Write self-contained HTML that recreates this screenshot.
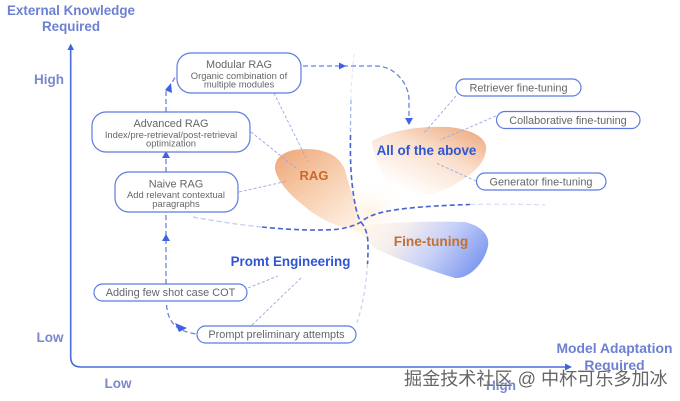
<!DOCTYPE html>
<html><head><meta charset="utf-8">
<style>
html,body{margin:0;padding:0;background:#fff;width:680px;height:401px;overflow:hidden}
svg{display:block;font-family:"Liberation Sans",sans-serif;filter:blur(.35px)}
.b{fill:#fff;stroke:#5c7be0;stroke-width:1.2}
.t{fill:#666;font-size:10.9px;text-anchor:middle}
.s{fill:#666;font-size:9.4px;text-anchor:middle}
.a{fill:#6c80d4;font-weight:bold;font-size:13.4px;text-anchor:middle}
.l{fill:#7a88cc;font-weight:bold;font-size:13.5px;text-anchor:middle}
.d{fill:none;stroke:#6582e0;stroke-width:1.3;stroke-dasharray:5 3}
.f{fill:none;stroke:#9aa8e4;stroke-width:.9;stroke-dasharray:3 2}
.c{fill:none;stroke:#4464d4;stroke-width:1.6;stroke-dasharray:5 3}
.h{fill:#3f62e0}
</style></head><body>
<svg width="680" height="401" viewBox="0 0 680 401" xmlns="http://www.w3.org/2000/svg">
<defs>
<linearGradient id="g1" x1="0.1" y1="0.05" x2="0.85" y2="0.95"><stop offset="0" stop-color="#f0ac80"/><stop offset=".45" stop-color="#f7cfb0"/><stop offset="1" stop-color="#fff4e8"/></linearGradient>
<linearGradient id="g2" x1="0.9" y1="0.05" x2="0.25" y2="0.9"><stop offset="0" stop-color="#eeae86"/><stop offset=".45" stop-color="#fae0cd"/><stop offset="1" stop-color="#fff"/></linearGradient>
<linearGradient id="g3" x1="1" y1="0.6" x2="0" y2="0.25"><stop offset="0" stop-color="#7f98f0"/><stop offset=".4" stop-color="#c6d0f7"/><stop offset=".75" stop-color="#f5eeee"/><stop offset="1" stop-color="#fff6ea"/></linearGradient>
<radialGradient id="g4"><stop offset="0" stop-color="#fff3e4"/><stop offset="1" stop-color="#fff" stop-opacity="0"/></radialGradient>
</defs>
<ellipse cx="368" cy="212" rx="46" ry="36" fill="url(#g4)"/>
<path d="M275 168C275 156 287 149 305 149C325 149 339 155 345 170C351 192 358 214 368 238L352 229C335 227 315 216 303 205C290 195 276 180 275 168Z" fill="url(#g1)"/>
<path d="M372 141C392 130 418 126 448 127C472 129 488 138 486 150C484 166 470 176 452 186C430 198 402 200 388 184C380 172 373 154 372 141Z" fill="url(#g2)"/>
<path d="M362 226C385 222 430 221 465 222C482 226 490 236 488 246C485 262 470 279 455 278C435 272 400 260 378 250C368 244 364 234 362 226Z" fill="url(#g3)"/>

<!-- axes -->
<path d="M70.7 48V357Q70.7 367 81 367H566" fill="none" stroke="#4c6cdc" stroke-width="1.6"/>
<path class="h" d="M70.7 43.5L74 50H67.5Z"/>
<path class="h" d="M572 367L565 363.5V370.500Z"/>

<!-- curves -->
<path class="d" d="M166.500 305C168 322 176 331 196 334"/>
<path class="h" d="M175 323L187 328L179 332Z"/>
<path class="d" d="M166 284V212"/>
<path class="h" d="M166 234L170 241H162Z"/>
<path class="d" d="M166 172V152"/>
<path class="h" d="M166 151L170 158H162Z"/>
<path class="d" d="M166 112V92L176 76"/>
<path class="h" d="M171 83L172 93L165 90Z"/>
<path class="d" d="M303 66H376C395 66 409 84 409 100V118" stroke="#4f6fdc"/>
<path class="h" d="M346 66L339 62.500V69.500Z"/>
<path class="h" d="M409 125L405 118H413Z"/>

<!-- tree lines -->
<path d="M354 54C352 75 351 90 351 100" fill="none" stroke="#dfe4f8" stroke-width="1" stroke-dasharray="4 3"/>
<path d="M351 100C350.500 115 350.500 125 350.500 135" fill="none" stroke="#a3b3ee" stroke-width="1.300" stroke-dasharray="4 3"/>
<path class="c" d="M350.500 135C350 160 351 180 354 198C356 210 358 218 361 222"/>
<path class="c" d="M361 222C366 228 368 236 368 245C368 252 368 258 367.500 264"/>
<path d="M367.500 264C366 288 362 308 356 326" fill="none" stroke="#c6d0f2" stroke-width="1.200" stroke-dasharray="4 3"/>
<path class="c" d="M262 227C290 230 322 231 340 229C350 227 356 225 361 222C372 212 395 207 470 204.500"/>
<path d="M193 217C215 221 240 225 262 227" fill="none" stroke="#bcc8f0" stroke-width="1.200" stroke-dasharray="5 3"/>
<path d="M470 204.500C495 204 520 204 545 205" fill="none" stroke="#d6ddf6" stroke-width="1.200" stroke-dasharray="5 3"/>

<path class="f" d="M274 93L308 162"/>
<path class="f" d="M251 132L296 168"/>
<path class="f" d="M239 192L288 181"/>
<path class="f" d="M248 288L278 276"/>
<path class="f" d="M252 325L301 278"/>
<path class="f" d="M456 96L424 133"/>
<path class="f" d="M496 116L440 140"/>
<path class="f" d="M476 181L436 163"/>

<!-- boxes -->
<rect class="b" x="177" y="53" width="124" height="40" rx="14"/>
<rect class="b" x="92" y="112" width="158" height="40" rx="14"/>
<rect class="b" x="115" y="172" width="123" height="40" rx="14"/>
<rect class="b" x="94" y="284" width="153" height="17" rx="8.500"/>
<rect class="b" x="197" y="326" width="159" height="17" rx="8.500"/>
<rect class="b" x="456" y="79" width="125" height="17" rx="8.500"/>
<rect class="b" x="496.500" y="111.500" width="143.500" height="17" rx="8.500"/>
<rect class="b" x="476.500" y="173" width="129.500" height="17" rx="8.500"/>

<text class="t" x="239" y="68">Modular RAG</text>
<text class="s" x="239" y="79">Organic combination of</text>
<text class="s" x="239" y="87.500">multiple modules</text>
<text class="t" x="171" y="127">Advanced RAG</text>
<text class="s" x="171" y="138">Index/pre-retrieval/post-retrieval</text>
<text class="s" x="171" y="146.500">optimization</text>
<text class="t" x="176" y="187.500">Naive RAG</text>
<text class="s" x="176" y="198">Add relevant contextual</text>
<text class="s" x="176" y="207">paragraphs</text>
<text class="t" x="170.500" y="296">Adding few shot case COT</text>
<text class="t" x="276.500" y="338">Prompt preliminary attempts</text>
<text class="t" x="518.500" y="91.500">Retriever fine-tuning</text>
<text class="t" x="568" y="124">Collaborative fine-tuning</text>
<text class="t" x="541" y="185.500">Generator fine-tuning</text>

<text x="314" y="180" font-size="13" font-weight="bold" fill="#c96a2c" text-anchor="middle">RAG</text>
<text x="426.500" y="155" font-size="13.400" font-weight="bold" fill="#2f55d4" text-anchor="middle">All of the above</text>
<text x="431" y="246" font-size="13.700" font-weight="bold" fill="#c4702f" text-anchor="middle">Fine-tuning</text>
<text x="290.500" y="266" font-size="13.400" font-weight="bold" fill="#2f55d4" text-anchor="middle">Promt Engineering</text>

<text class="a" x="71" y="15">External Knowledge</text>
<text class="a" x="71" y="31">Required</text>
<text class="l" x="49" y="84">High</text>
<text class="l" x="50" y="342">Low</text>
<text class="l" x="118" y="388">Low</text>
<text class="a" x="614.500" y="353" style="font-size:13.900px">Model Adaptation</text>
<text class="a" x="614.500" y="370" style="font-size:13.900px">Required</text>
<text class="l" x="501" y="390">High</text>

<text x="404" y="385" font-size="18.100" fill="#666" stroke="#fff" stroke-width=".5" paint-order="stroke" style="font-family:'Liberation Sans','Noto Sans CJK SC',sans-serif">掘金技术社区 @ 中杯可乐多加冰</text>
</svg>
</body></html>
